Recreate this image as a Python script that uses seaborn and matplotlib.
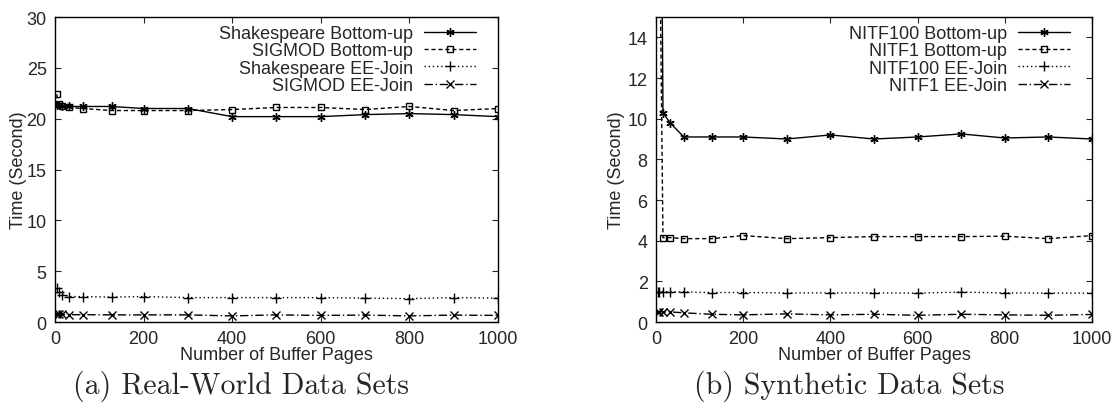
import matplotlib
matplotlib.use("Agg")
import matplotlib.pyplot as plt
import seaborn as sns
import pandas as pd

# ---- data ----
buffer_pages = [4, 8, 16, 32, 64, 128, 200, 300, 400, 500, 600, 700, 800, 900, 1000]

shakespeare_bu = [21.3, 21.3, 21.2, 21.2, 21.2, 21.2, 21.0, 21.0, 20.2, 20.2, 20.2, 20.4, 20.5, 20.4, 20.2]
sigmod_bu      = [22.4, 21.4, 21.2, 21.1, 21.0, 20.8, 20.8, 20.8, 20.9, 21.1, 21.1, 20.9, 21.2, 20.8, 21.0]
shakespeare_ee = [3.3, 3.0, 2.7, 2.5, 2.5, 2.45, 2.5, 2.4, 2.4, 2.4, 2.4, 2.35, 2.3, 2.4, 2.35]
sigmod_ee      = [0.75, 0.75, 0.75, 0.72, 0.72, 0.7, 0.7, 0.7, 0.6, 0.7, 0.65, 0.68, 0.6, 0.68, 0.65]

nitf100_bu = [60.0, 35.0, 10.3, 9.8, 9.1, 9.1, 9.1, 9.0, 9.2, 9.0, 9.1, 9.25, 9.05, 9.1, 9.0]
nitf1_bu   = [30.0, 20.0, 4.15, 4.15, 4.1, 4.1, 4.25, 4.1, 4.15, 4.2, 4.2, 4.2, 4.22, 4.1, 4.25]
nitf100_ee = [1.5, 1.5, 1.5, 1.48, 1.48, 1.45, 1.45, 1.43, 1.43, 1.43, 1.42, 1.47, 1.43, 1.42, 1.42]
nitf1_ee   = [0.5, 0.5, 0.5, 0.5, 0.45, 0.38, 0.35, 0.4, 0.35, 0.38, 0.33, 0.38, 0.35, 0.33, 0.37]

left_labels = ["Shakespeare Bottom-up", "SIGMOD Bottom-up", "Shakespeare EE-Join", "SIGMOD EE-Join"]
right_labels = ["NITF100 Bottom-up", "NITF1 Bottom-up", "NITF100 EE-Join", "NITF1 EE-Join"]
captions = ["(a) Real-World Data Sets", "(b) Synthetic Data Sets"]
xlabel = "Number of Buffer Pages"
ylabel = "Time (Second)"

sns.set_style("ticks")
plt.rcParams["font.family"] = ["Liberation Sans", "DejaVu Sans"]

styles = [
    dict(marker=(6, 2, 0), ls="-", ms=6),
    dict(marker="s", ls=(0, (3, 2)), mfc="none", ms=5),
    dict(marker="+", ls=(0, (1, 2)), ms=7),
    dict(marker="x", ls=(0, (6, 2, 1, 2)), ms=5.5),
]

fig = plt.figure(figsize=(11.13, 4.14), dpi=100)
ax1 = fig.add_axes([0.0494, 0.2198, 0.3980, 0.7367])
ax2 = fig.add_axes([0.5894, 0.2198, 0.3917, 0.7367])


def draw(ax, series, labels, ylim, yticks, ylabelpad):
    for vals, lab, st in zip(series, labels, styles):
        df = pd.DataFrame({"x": buffer_pages, "y": vals})
        sns.lineplot(data=df, x="x", y="y", ax=ax, color="black", lw=1.0,
                     marker=st["marker"], linestyle=st["ls"], markersize=st["ms"],
                     markerfacecolor=st.get("mfc", "black"), markeredgecolor="black",
                     markeredgewidth=1.0, label=lab)
    ax.set_xlim(0, 1000)
    ax.set_ylim(*ylim)
    ax.set_xticks([0, 200, 400, 600, 800, 1000])
    ax.set_yticks(yticks)
    ax.tick_params(direction="in", top=True, right=True, labelsize=13, length=4.5, width=0.8, pad=6)
    for s in ax.spines.values():
        s.set_linewidth(1.0)
        s.set_color("black")
    ax.set_xlabel(xlabel, fontsize=13, labelpad=-1)
    ax.set_ylabel(ylabel, fontsize=13, labelpad=ylabelpad)
    leg = ax.legend(loc="upper right", frameon=False, markerfirst=False, fontsize=13,
                    handlelength=2.9, labelspacing=0.02, borderaxespad=1.2,
                    handletextpad=0.6, borderpad=0.0)
    for t in leg.get_texts():
        t.set_ha("right")
    leg._legend_box.align = "right"
    # keep vertical placement close to the top frame
    leg.set_bbox_to_anchor((1.0, 1.0 + 0.045), transform=ax.transAxes)


draw(ax1, [shakespeare_bu, sigmod_bu, shakespeare_ee, sigmod_ee], left_labels, (0, 30),
     [0, 5, 10, 15, 20, 25, 30], 0)
draw(ax2, [nitf100_bu, nitf1_bu, nitf100_ee, nitf1_ee], right_labels, (0, 15),
     [0, 2, 4, 6, 8, 10, 12, 14], 2)

for cx, cap in zip([0.2165, 0.763], captions):
    fig.text(cx, 0.066, cap, ha="center", va="center", fontsize=21.5,
             family=["cmr10", "DejaVu Serif"])

fig.savefig("out.png", dpi=100)
